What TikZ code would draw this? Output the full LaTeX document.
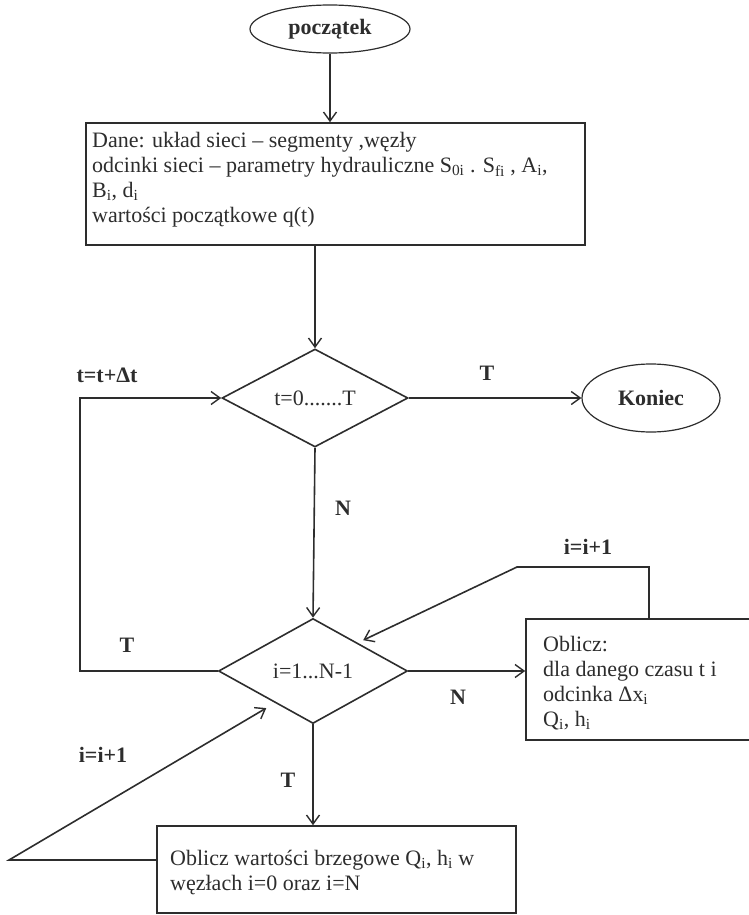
\documentclass[tikz,border=0pt]{standalone}
\usepackage{fontspec}
\setmainfont{Liberation Serif}
\usetikzlibrary{shapes.geometric,arrows.meta,calc}
\definecolor{ink}{RGB}{45,45,45}
\begin{document}
\begin{tikzpicture}[x=1pt,y=-1pt,
  every node/.style={text=ink},
  line/.style={draw=ink,line width=1.6pt},
  arr/.style={line,-{Straight Barb[length=9pt,width=13pt,line width=1.4pt]}},
  box/.style={draw=ink,line width=1.6pt,rectangle,inner sep=0pt},
  txt/.style={align=left,inner sep=0pt,anchor=north west,font=\fontsize{22}{25}\selectfont},
  dec/.style={draw=ink,line width=1.6pt,diamond,inner sep=0pt,font=\fontsize{22}{25}\selectfont},
  term/.style={draw=ink,line width=1.2pt,ellipse,inner sep=0pt,font=\bfseries\fontsize{22}{25}\selectfont},
  lab/.style={font=\bfseries\fontsize{22}{25}\selectfont,inner sep=0pt}]
\useasboundingbox (0,0) rectangle (749,915);
\clip (0,0) rectangle (749,915);

% terminals
\node[term,minimum width=160pt,minimum height=48pt] (start) at (330,29) {początek};
\node[term,minimum width=138pt,minimum height=68pt] (end) at (651,398) {Koniec};

% boxes
\node[box,minimum width=499pt,minimum height=122pt] (b1) at (335.5,184) {};
\node[txt] (t1) at (92,132) {Dane: układ sieci – segmenty ,węzły\\
odcinki sieci – parametry hydrauliczne S\textsubscript{0i} . S\textsubscript{fi} , A\textsubscript{i},\\
B\textsubscript{i}, d\textsubscript{i}\\
wartości początkowe q(t)};

\node[box,minimum width=234pt,minimum height=121pt] (b2) at (643,679.5) {};
\node[txt] (t2) at (543,636) {Oblicz:\\
dla danego czasu t i\\
odcinka Δx\textsubscript{i}\\
Q\textsubscript{i}, h\textsubscript{i}};

\node[box,minimum width=359pt,minimum height=87pt] (b3) at (336.5,869.5) {};
\node[txt] (t3) at (170,850) {Oblicz wartości brzegowe Q\textsubscript{i}, h\textsubscript{i} w\\
węzłach i=0 oraz i=N};

% decisions
\node[dec,minimum width=186pt,minimum height=98pt] (d1) at (315,398) {t=0.......T};
\node[dec,minimum width=189pt,minimum height=105pt] (d2) at (313,671) {i=1...N-1};

% labels
\node[lab] (l1) at (107,375) {t=t+Δt};
\node[lab] (l2) at (487,373) {T};
\node[lab] (l3) at (343,508) {N};
\node[lab] (l4) at (127,645) {T};
\node[lab] (l5) at (458,697) {N};
\node[lab] (l6) at (588,547) {i=i+1};
\node[lab] (l7) at (103,755) {i=i+1};
\node[lab] (l8) at (288,780) {T};

% helper points
\coordinate (lt) at (80,671);
\coordinate (r1) at (649,567);
\coordinate (rt) at (517,567);
\coordinate (lb) at (9,860);

% connectors
\draw[arr] (start.south) -- (b1.north -| start.south);
\draw[arr] (b1.south -| d1.north) -- (d1.north);
\draw[arr] (d1.east) -- (end.west);
\draw[arr] (d1.south) -- (d2.north);
\draw[arr] (d2.west) -- (lt) |- (d1.west);
\draw[arr] (d2.east) -- (b2.west |- d2.east);
\draw[arr,shorten >=6pt] (b2.north -| r1) -- (r1) -- (rt) -- ($(d2.north)!0.47!(d2.east)$);
\draw[arr] (d2.south) -- (b3.north -| d2.south);
\draw[arr,shorten >=10pt] (b3.west |- lb) -- (lb) -- ($(d2.west)!0.6!(d2.south)$);
\end{tikzpicture}
\end{document}
